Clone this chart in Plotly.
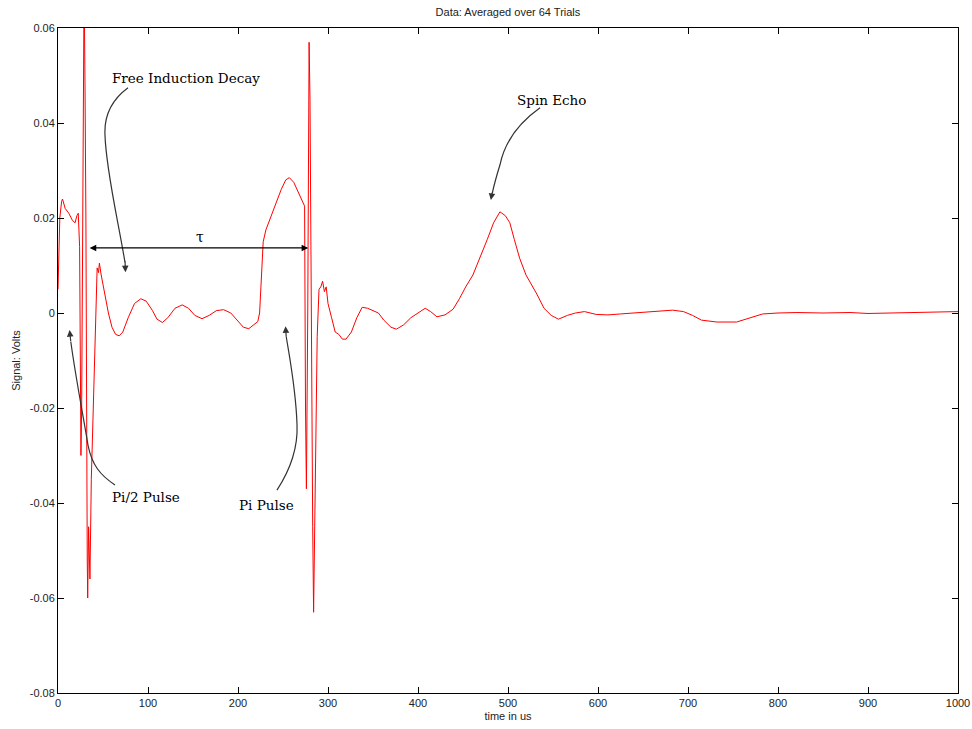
import plotly.graph_objects as go

# ---- data (time in us, signal in volts) ----
time_us = [0, 1, 2, 4, 5, 8, 12, 16, 19, 21, 22.5, 24, 25.5, 26.3, 27, 29, 30, 31, 32.5, 33, 34, 35.5, 37, 40,
           42.5, 43.5, 45, 46, 48, 52, 56, 60, 64, 68, 72, 78, 85, 92, 98, 105, 110, 116, 122, 130, 138, 145,
           152, 160, 168, 176, 184, 192, 200, 206, 212, 218, 222, 224, 226, 228, 231, 236, 242, 248, 253,
           257, 262, 267, 272, 274, 275, 276, 277.5, 279, 280, 281, 283, 284, 285, 286.5, 288, 290, 292,
           294, 296, 298, 300, 304, 308, 312, 316, 320, 326, 332, 338, 344, 350, 356, 362, 370, 376, 384,
           392, 400, 408, 414, 421, 430, 439, 446, 453, 461, 470, 477, 484, 491, 497, 502, 507, 513, 520,
           526, 532, 540, 548, 556, 566, 575, 585, 598, 611, 625, 639, 660, 683, 695, 705, 715, 732, 754,
           768, 783, 800, 821, 850, 880, 900, 920, 950, 980, 1000]
signal_v = [0.005, 0.012, 0.020, 0.0235, 0.024, 0.022, 0.021, 0.0195, 0.019, 0.0205, 0.021, 0.014, -0.030,
            -0.020, 0.012, 0.07, 0.048, 0.02, -0.052, -0.060, -0.045, -0.056, -0.035, -0.015,
            0.005, 0.0095, 0.0085, 0.0105, 0.008, 0.004, 0.0, -0.003, -0.0045, -0.0048, -0.004, -0.001,
            0.002, 0.003, 0.0025, 0.0005, -0.0013, -0.002, -0.001, 0.001, 0.0017, 0.001,
            -0.0005, -0.0012, -0.0005, 0.0005, 0.0007, 0.0, -0.0018, -0.003, -0.0033, -0.0025, -0.0018,
            0.0, 0.008, 0.015, 0.0175, 0.020, 0.023, 0.026, 0.028,
            0.0285, 0.0275, 0.0255, 0.0235, 0.0225, -0.020, -0.037, 0.000, 0.057, 0.045, 0.01, -0.045,
            -0.063, -0.05, -0.025, -0.005, 0.005, 0.0055,
            0.0067, 0.0045, 0.0055, 0.002, -0.001, -0.004, -0.0045, -0.0055, -0.0055, -0.004, -0.001,
            0.0012, 0.001, 0.0005, 0.0, -0.0015, -0.003, -0.0034, -0.0025,
            -0.001, 0.0, 0.001, 0.0003, -0.0008, -0.0004, 0.0008, 0.003, 0.0055, 0.008, 0.012, 0.0155,
            0.019, 0.0213, 0.0205, 0.019, 0.0155, 0.0115, 0.008,
            0.006, 0.004, 0.001, -0.0005, -0.0013, -0.0005, 0.0, 0.0003, -0.0003, -0.0004, -0.0002, 0.0,
            0.0003, 0.0006, 0.0003, -0.0005, -0.0015, -0.0019, -0.0019,
            -0.001, -0.0002, 0.0, 0.0001, 0.0, 0.0001, -0.0001, 0.0, 0.0001, 0.0002, 0.0003]

x_ticks = [0, 100, 200, 300, 400, 500, 600, 700, 800, 900, 1000]
y_ticks = [0.06, 0.04, 0.02, 0, -0.02, -0.04, -0.06, -0.08]
y_tick_labels = ["0.06", "0.04", "0.02", "0", "-0.02", "-0.04", "-0.06", "-0.08"]

fig = go.Figure()
fig.add_trace(go.Scatter(x=time_us, y=signal_v, mode="lines",
                         line=dict(color="#ff0000", width=1), showlegend=False, hoverinfo="skip"))

serif = "DejaVu Serif"
arrow_col = "#333333"


def curve(pts):
    (x0, y0) = pts[0]
    d = f"M {x0},{y0}"
    rest = pts[1:]
    for i in range(0, len(rest), 3):
        c = rest[i:i + 3]
        d += " C " + " ".join(f"{a},{b}" for a, b in c)
    return d


curves = [
    # Free Induction Decay
    [(77.8, 0.0474), (60, 0.0449), (51.1, 0.0417), (52.2, 0.0375), (53.3, 0.0301), (66.7, 0.0196), (74.4, 0.0107)],
    # Spin Echo
    [(535.6, 0.0432), (513.3, 0.0402), (496.7, 0.0364), (491.1, 0.0312), (486.7, 0.0285), (484.0, 0.0265), (482.5, 0.0252)],
    # Pi/2 pulse
    [(63.3, -0.0362), (46.7, -0.0341), (37.8, -0.032), (33.3, -0.0278), (28.9, -0.0225), (20, -0.0141), (14.2, -0.0060)],
    # Pi pulse
    [(243.3, -0.0373), (257.8, -0.0331), (266.7, -0.0288), (265.6, -0.0236), (264.4, -0.0162), (257.8, -0.0099), (253.6, -0.0050)],
]
for pts in curves:
    fig.add_shape(type="path", path=curve(pts), xref="x", yref="y",
                  line=dict(color=arrow_col, width=1.2))

# arrowheads: (tip, tail)
heads = [((75.0, 0.0086), (74.4, 0.0112)),
         ((481.0, 0.0238), (482.6, 0.0256)),
         ((12.8, -0.0036), (14.3, -0.0062)),
         ((252.8, -0.0028), (253.7, -0.0053))]
for (tx, ty), (sx, sy) in heads:
    fig.add_annotation(x=tx, y=ty, ax=sx, ay=sy, xref="x", yref="y", axref="x", ayref="y",
                       text="", showarrow=True, arrowhead=2, arrowsize=1.1, arrowwidth=1.2,
                       arrowcolor=arrow_col)

# tau double arrow
fig.add_annotation(x=278, y=0.0137, ax=33.5, ay=0.0137, xref="x", yref="y", axref="x", ayref="y",
                   text="", showarrow=True, arrowhead=2, startarrowhead=2, arrowside="end+start",
                   arrowsize=1.1, arrowwidth=1.2, arrowcolor="black")
fig.add_annotation(x=157.8, y=0.0160, xref="x", yref="y", text="τ", showarrow=False,
                   font=dict(family=serif, size=14, color="black"))

labels = [("Free Induction Decay", 57.8, 0.0495),
          ("Spin Echo", 507.8, 0.0448),
          ("Pi/2 Pulse", 57.8, -0.0387),
          ("Pi Pulse", 198.9, -0.0404)]
for txt, lx, ly in labels:
    fig.add_annotation(x=lx, y=ly, xref="x", yref="y", text=txt, showarrow=False,
                       xanchor="left", yanchor="middle",
                       font=dict(family=serif, size=13.5, color="black"))

axis_common = dict(showline=True, linecolor="black", linewidth=1, mirror="ticks",
                   ticks="inside", ticklen=6, tickcolor="black", showgrid=False, zeroline=False,
                   automargin=False,
                   tickfont=dict(family="Liberation Sans", size=11, color="#222"))

fig.update_xaxes(range=[0, 1000], tickvals=x_ticks, ticktext=[str(v) for v in x_ticks],
                 title=dict(text="time in us", font=dict(family="Liberation Sans", size=11, color="#222"),
                            standoff=4), **axis_common)
fig.update_yaxes(range=[-0.08, 0.06], tickvals=y_ticks, ticktext=y_tick_labels,
                 title=dict(text="Signal: Volts", font=dict(family="Liberation Sans", size=11, color="#222"),
                            standoff=6), **axis_common)

fig.update_layout(
    width=972, height=729,
    margin=dict(l=58, r=14, t=28, b=36, autoexpand=False),
    paper_bgcolor="white", plot_bgcolor="white",
    title=dict(text="Data: Averaged over 64 Trials", x=0.5226, xanchor="center", y=0.9835, yanchor="middle",
               font=dict(family="Liberation Sans", size=11, color="#222")),
)

# remove the default page margin so the figure fills the window exactly; hide the mode bar
fig.write_html("out.html",
               config={"displayModeBar": False},
               post_script="document.body.style.margin='0';document.body.style.overflow='hidden';")
